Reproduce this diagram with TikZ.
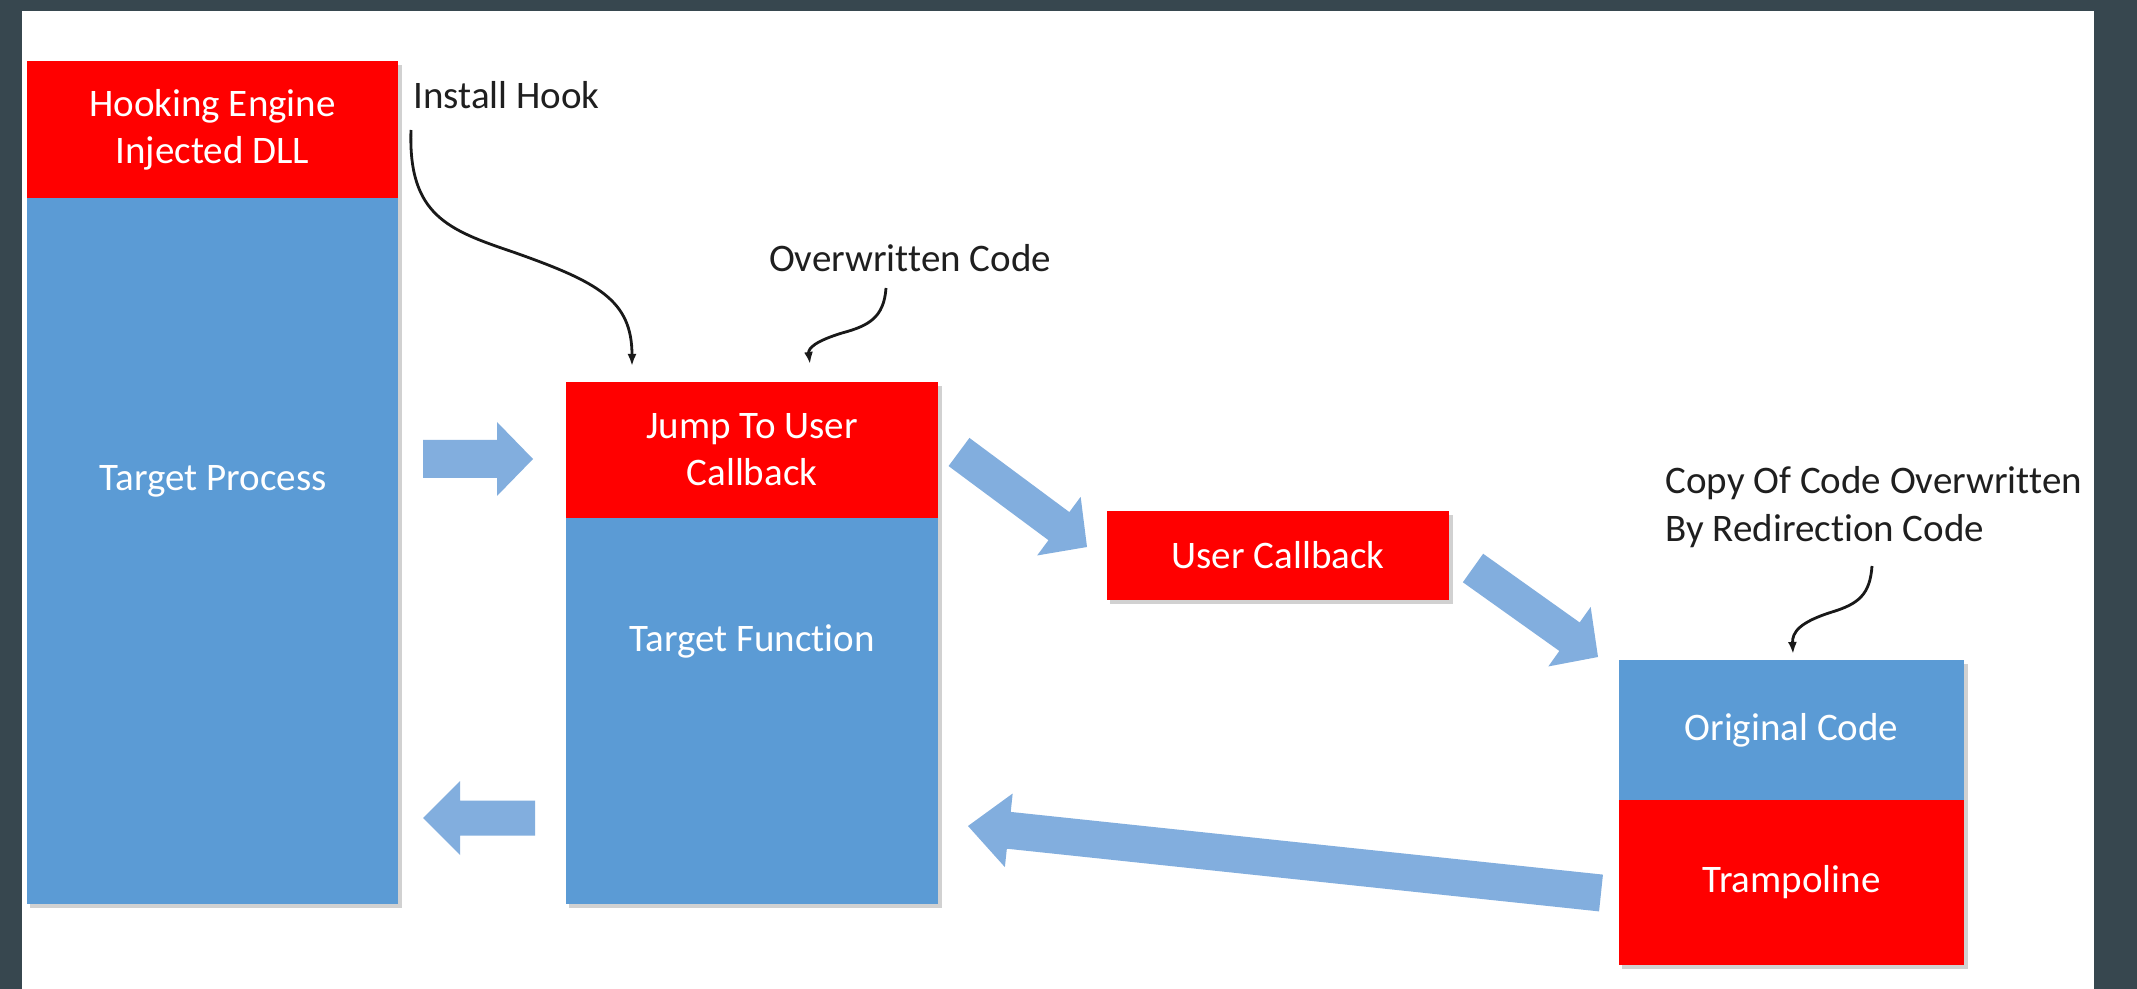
\documentclass[tikz,border=0pt]{standalone}
\usepackage{fontspec}
\setmainfont{Carlito}[Ligatures=NoCommon]
\usetikzlibrary{calc,arrows.meta}
\definecolor{bgdark}{HTML}{37474F}
\definecolor{boxred}{HTML}{FF0000}
\definecolor{boxblue}{HTML}{5B9BD5}
\definecolor{arrowblue}{HTML}{82AEDE}
\tikzset{
  box/.style={draw=none, inner sep=0pt, outer sep=0pt, anchor=north west,
    text=white, font=\fontsize{19.5}{23.5}\selectfont, align=center},
  redbox/.style={box, fill=boxred},
  bluebox/.style={box, fill=boxblue},
  boxtext/.style={text=white, font=\fontsize{19.5}{23.5}\selectfont, align=center, inner sep=0pt},
  note/.style={text=black!88, font=\fontsize{19.5}{24}\selectfont, inner sep=0pt},
  curvy/.style={line width=1.4pt, black!90, -{Latex[length=6pt,width=4.5pt]}},
  fatarrow/.style={fill=arrowblue},
  shadowbox/.style={fill=black, opacity=0.18}
}
% block arrow: tail, tip, shaft half width, head half width, head length
\newcommand\blockarrow[5]{%
  \path ($(#2)!#5!(#1)$) coordinate (bah);
  \fill[fatarrow] ($(#1)!#3!90:(#2)$) -- ($(bah)!#3!90:(#2)$) -- ($(bah)!#4!90:(#2)$)
    -- (#2) -- ($(bah)!#4!-90:(#2)$) -- ($(bah)!#3!-90:(#2)$) -- ($(#1)!#3!-90:(#2)$) -- cycle;
}
\begin{document}
\begin{tikzpicture}[x=0.5pt,y=-0.5pt]
\useasboundingbox (0,0) rectangle (2137,989);
\fill[bgdark] (0,0) rectangle (2137,989);
\fill[white] (22,11) rectangle (2094,989);

% shadows
\fill[shadowbox] (30,65) rectangle (402,908);
\fill[shadowbox] (569,386) rectangle (942,908);
\fill[shadowbox] (1110,515) rectangle (1453,604);
\fill[shadowbox] (1622,664) rectangle (1968,969);

% left box
\node[redbox, minimum width=185.5pt, minimum height=68.5pt] (hook) at (27,61) {Hooking Engine\\Injected DLL};
\node[bluebox, minimum width=185.5pt, minimum height=353pt] (tproc) at (27,198) {};
\node[boxtext] (tproctxt) at (213,481) {Target Process};

% middle box
\node[redbox, minimum width=186pt, minimum height=68pt] (jump) at (566,382) {Jump To User\\Callback};
\node[bluebox, minimum width=186pt, minimum height=193pt] (tfunc) at (566,518) {};
\node[boxtext] (tfunctxt) at (752,641) {Target Function};

% user callback
\node[redbox, minimum width=171pt, minimum height=44.5pt] (ucb) at (1107,511) {User Callback};

% right box
\node[bluebox, minimum width=172.5pt, minimum height=70pt] (orig) at (1619,660) {Original Code};
\node[redbox, minimum width=172.5pt, minimum height=82.5pt] (tramp) at (1619,800) {Trampoline};

% annotations
\node[note, anchor=west] (ihtxt) at (413,95) {Install Hook};
\node[note] (owtxt) at (910,258) {Overwritten Code};
\node[note, anchor=west, align=left] (cptxt) at (1665,507) {Copy Of Code Overwritten\\By Redirection Code};

% thin curved pointers
\coordinate (ihs) at (411,130);
\coordinate (ihe) at (632,366);
\draw[curvy] (ihs) .. controls (408,215) and (448,230) .. (513,252)
  .. controls (598,282) and (632,300) .. (ihe);
\coordinate (ows) at (886,288);
\coordinate (owe) at (810,364);
\draw[curvy] (ows) .. controls (884,318) and (868,326) .. (842,333)
  .. controls (816,341) and (808,348) .. (owe);
\coordinate (cps) at (1872,566);
\coordinate (cpe) at (1793,654);
\draw[curvy] (cps) .. controls (1870,595) and (1858,604) .. (1832,612)
  .. controls (1800,622) and (1792,632) .. (cpe);

% block arrows
\coordinate (a1s) at (423,459); \coordinate (a1e) at (533,459);
\blockarrow{a1s}{a1e}{9.5pt}{18.5pt}{18pt}
\coordinate (a2s) at (535,818); \coordinate (a2e) at (423,818);
\blockarrow{a2s}{a2e}{8.75pt}{18.5pt}{18.5pt}
\coordinate (a3s) at (959,452); \coordinate (a3e) at (1087,547);
\blockarrow{a3s}{a3e}{8.75pt}{18.25pt}{17.5pt}
\coordinate (a4s) at (1473,568); \coordinate (a4e) at (1598,657);
\blockarrow{a4s}{a4e}{8.75pt}{18.25pt}{17.5pt}
\coordinate (a5s) at (1601,893); \coordinate (a5e) at (968,826);
\blockarrow{a5s}{a5e}{9.25pt}{18.5pt}{20.5pt}
\end{tikzpicture}
\end{document}
